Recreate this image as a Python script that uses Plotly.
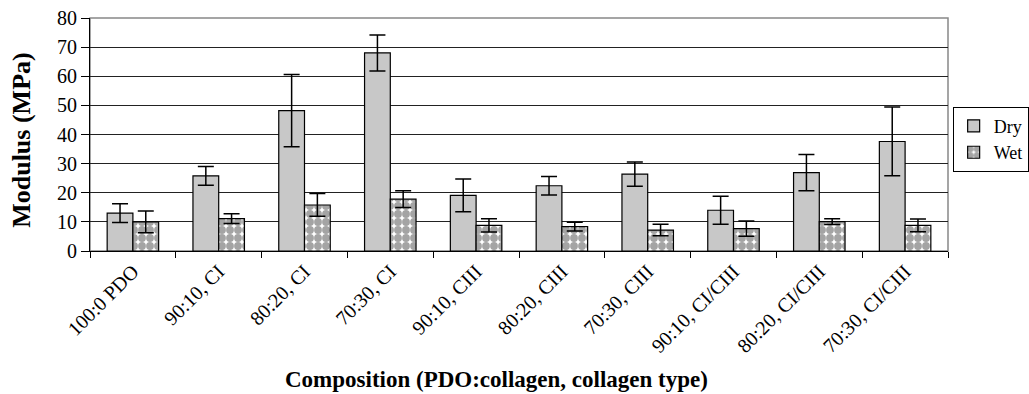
import plotly.graph_objects as go

categories = ["100:0 PDO", "90:10, CI", "80:20, CI", "70:30, CI", "90:10, CIII",
              "80:20, CIII", "70:30, CIII", "90:10, CI/CIII", "80:20, CI/CIII", "70:30, CI/CIII"]
dry = [13.0, 25.8, 48.2, 68.0, 19.1, 22.4, 26.4, 14.0, 26.9, 37.6]
dry_err = [3.2, 3.2, 12.4, 6.2, 5.6, 3.2, 4.2, 4.8, 6.2, 11.8]
wet = [10.0, 11.1, 15.8, 17.8, 8.8, 8.4, 7.2, 7.7, 10.1, 8.8]
wet_err = [3.7, 1.7, 3.9, 2.9, 2.3, 1.5, 2.0, 2.6, 1.0, 2.2]
yticks = [0, 10, 20, 30, 40, 50, 60, 70, 80]

font = "'Liberation Serif', 'Times New Roman', serif"

fig = go.Figure()
fig.add_trace(go.Bar(
    name="Dry", x=categories, y=dry,
    marker=dict(color="#c8c8c8", line=dict(color="black", width=1.2)),
    error_y=dict(type="data", array=dry_err, color="black", thickness=1.5, width=8),
))
fig.add_trace(go.Bar(
    name="Wet", x=categories, y=wet,
    marker=dict(color="white", line=dict(color="black", width=1.2),
                pattern=dict(shape=".", fgcolor="#4a4a4a", bgcolor="white",
                             size=8, solidity=0.75, fillmode="overlay")),
    error_y=dict(type="data", array=wet_err, color="black", thickness=1.5, width=8),
))

fig.add_shape(type="rect", xref="paper", yref="paper", x0=0, y0=0, x1=1, y1=1,
              line=dict(color="#888888", width=1.5), layer="below")

# axis titles placed as annotations (paper coords; plot area 90..948 x 18..251 px)
fig.add_annotation(text="<b>Composition (PDO:collagen, collagen type)</b>",
                   xref="paper", yref="paper", x=0.474, y=-0.553,
                   xanchor="center", yanchor="middle", showarrow=False,
                   font=dict(family=font, size=23, color="black"))
fig.add_annotation(text="<b>Modulus (MPa)</b>",
                   xref="paper", yref="paper", x=-0.0793, y=0.477,
                   xanchor="center", yanchor="middle", showarrow=False, textangle=-90,
                   font=dict(family=font, size=26, color="black"))

fig.update_layout(
    width=1029, height=394,
    margin=dict(l=90, r=81, t=18, b=143, autoexpand=False),
    paper_bgcolor="white", plot_bgcolor="white",
    barmode="group", bargap=0.40, bargroupgap=0,
    font=dict(family=font, size=16, color="black"),
    showlegend=True,
    legend=dict(x=1.094, y=0.48, xanchor="right", yanchor="middle",
                bordercolor="black", borderwidth=1, bgcolor="white",
                font=dict(family=font, size=18), tracegroupgap=0, itemwidth=30),
    xaxis=dict(
        type="category", tickangle=-45, tickson="boundaries",
        ticks="outside", ticklen=6, tickcolor="black",
        showline=True, linecolor="black", linewidth=1,
        tickfont=dict(family=font, size=20),
    ),
    yaxis=dict(
        range=[0, 80], tickvals=yticks, ticks="outside", ticklen=8, tickcolor="black",
        showline=True, linecolor="black", linewidth=1,
        showgrid=True, gridcolor="#222222", gridwidth=1,
        tickfont=dict(family=font, size=20),
        zeroline=False,
    ),
)

fig.write_html("out.html")
